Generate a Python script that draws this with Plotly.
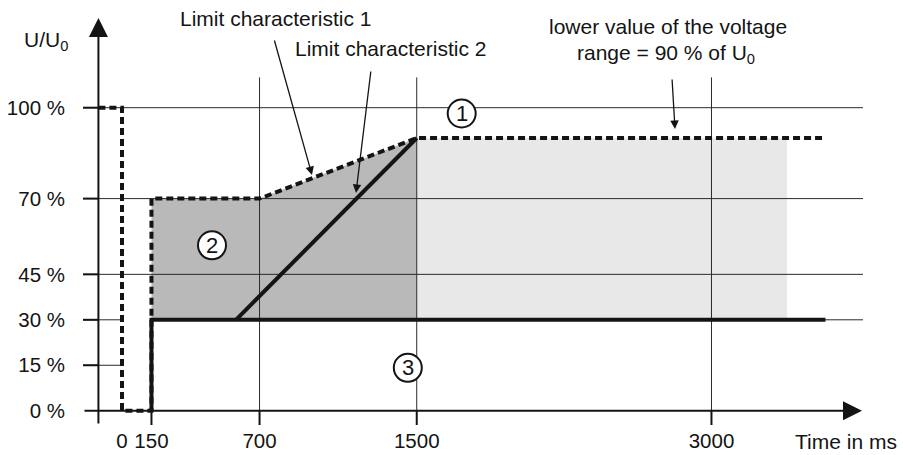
import plotly.graph_objects as go

# ---------------- data ----------------
x_tick_vals = [0, 150, 700, 1500, 3000]
x_tick_text = ["0", "150", "700", "1500", "3000"]
y_tick_vals = [0, 15, 30, 45, 70, 100]
y_tick_text = ["0 %", "15 %", "30 %", "45 %", "70 %", "100 %"]

# Limit characteristic 1 (dashed): time in ms, U/U0 in %
lc1_time = [-120, 0, 0, 150, 150, 700, 1500, 3580]
lc1_volt = [100, 100, 0, 0, 70, 70, 90, 90]

# Limit characteristic 2 (solid)
lc2_time = [150, 150, 3580]
lc2_volt = [0, 30, 30]
lc2_ramp_time = [580, 1500]
lc2_ramp_volt = [30, 90]

# Region 2 (dark grey) and region 1 (light grey)
reg2_time = [150, 150, 700, 1500, 1500]
reg2_volt = [30, 70, 70, 90, 30]
reg1_time = [1500, 1500, 3385, 3385]
reg1_volt = [30, 90, 90, 30]

# grid definition
grid_full_u = [45, 70, 100]
grid_left_u = [15, 30]      # drawn only up to t = 0
grid_right_u = [30]         # drawn from t = 150 on
grid_t = [700, 1500, 3000]
grid_top_u = 110
tick_t = [150, 700, 1500, 3000]
y_axis_t = -120

# ---------------- layout geometry ----------------
W, H = 903, 455
ML, MR, MT, MB = 83, 40, 18, 30
PX_T0 = 122.0
PX_PER_MS = 0.19649
PY_U0 = 410.7
PX_PER_PCT = 3.03
x_range = [(ML - PX_T0) / PX_PER_MS, (W - MR - PX_T0) / PX_PER_MS]
y_range = [(PY_U0 - (H - MB)) / PX_PER_PCT, (PY_U0 - MT) / PX_PER_PCT]


def t_of(px):
    return (px - PX_T0) / PX_PER_MS


def u_of(py):
    return (PY_U0 - py) / PX_PER_PCT


def xp(px):
    return (px - ML) / (W - ML - MR)


def yp(py):
    return (H - MB - py) / (H - MT - MB)


INK = "#141414"
GRID = "#2a2a2a"
FONT = "Liberation Sans, Arial, sans-serif"

fig = go.Figure()

# filled regions
fig.add_trace(go.Scatter(x=reg1_time, y=reg1_volt, fill="toself", fillcolor="#e8e8e8",
                         mode="lines", line=dict(width=0), hoverinfo="skip"))
fig.add_trace(go.Scatter(x=reg2_time, y=reg2_volt, fill="toself", fillcolor="#b9b9b9",
                         mode="lines", line=dict(width=0), hoverinfo="skip"))

# grid lines
gx, gy = [], []
for u in grid_full_u:
    gx += [x_range[0], x_range[1], None]
    gy += [u, u, None]
for u in grid_left_u:
    gx += [x_range[0], 0, None]
    gy += [u, u, None]
for u in grid_right_u:
    gx += [150, x_range[1], None]
    gy += [u, u, None]
for t in grid_t:
    gx += [t, t, None]
    gy += [0, grid_top_u, None]
fig.add_trace(go.Scatter(x=gx, y=gy, mode="lines", line=dict(color=GRID, width=1),
                         hoverinfo="skip"))

# tick marks
tx, ty = [], []
for t in tick_t:
    tx += [t, t, None]
    ty += [0, y_range[0], None]
for u in y_tick_vals[1:]:
    tx += [x_range[0], y_axis_t, None]
    ty += [u, u, None]
fig.add_trace(go.Scatter(x=tx, y=ty, mode="lines", line=dict(color=INK, width=2),
                         hoverinfo="skip"))

# limit characteristics
fig.add_trace(go.Scatter(x=lc1_time, y=lc1_volt, mode="lines",
                         line=dict(color=INK, width=4, dash="7px,4px"), hoverinfo="skip"))
fig.add_trace(go.Scatter(x=lc2_time, y=lc2_volt, mode="lines",
                         line=dict(color=INK, width=4), hoverinfo="skip"))
fig.add_trace(go.Scatter(x=lc2_ramp_time, y=lc2_ramp_volt, mode="lines",
                         line=dict(color=INK, width=4), hoverinfo="skip"))

annotations = []
# axes with arrowheads
annotations.append(dict(x=t_of(862), y=0, ax=x_range[0], ay=0, axref="x", ayref="y",
                        xref="x", yref="y", text="", showarrow=True, arrowhead=2,
                        arrowwidth=2, arrowsize=1.9, arrowcolor=INK, standoff=0))
annotations.append(dict(x=y_axis_t, y=y_range[1], ax=y_axis_t, ay=y_range[0], axref="x",
                        ayref="y", xref="x", yref="y", text="", showarrow=True,
                        arrowhead=2, arrowwidth=2, arrowsize=1.9, arrowcolor=INK,
                        standoff=0))

# callout arrows (head in data coords, tail as pixel offset)
for hx, hy, tlx, tly in [(312, 175, 274, 39), (356, 193, 371, 70), (675, 129, 672, 78)]:
    annotations.append(dict(x=t_of(hx), y=u_of(hy), xref="x", yref="y", ax=tlx - hx,
                            ay=tly - hy, text="", showarrow=True, arrowhead=2,
                            arrowwidth=1.3, arrowsize=1.3, arrowcolor=INK, standoff=0))

# texts
texts = [
    ("Limit characteristic 1", 275, 18, "center"),
    ("Limit characteristic 2", 390, 48, "center"),
    ("lower value of the voltage", 668, 26, "center"),
    ("range = 90 % of U<sub>0</sub>", 666, 54, "center"),
    ("U/U<sub>0</sub>", 46, 41, "center"),
    ("Time in ms", 899, 441, "right"),
]
for txt, cx, cy, anc in texts:
    annotations.append(dict(x=xp(cx), y=yp(cy), xref="paper", yref="paper", text=txt,
                            showarrow=False, xanchor=anc, yanchor="middle",
                            font=dict(family=FONT, size=21, color=INK)))

# circled numbers
shapes = []
for num, cx, cy in [("1", 461.7, 113.5), ("2", 212, 245.3), ("3", 407.8, 367.8)]:
    shapes.append(dict(type="circle", xref="x", yref="y", xsizemode="pixel",
                       ysizemode="pixel", xanchor=t_of(cx), yanchor=u_of(cy),
                       x0=-14, x1=14, y0=-14, y1=14, line=dict(color=INK, width=2),
                       fillcolor="white", layer="above"))
    annotations.append(dict(x=t_of(cx), y=u_of(cy), xref="x", yref="y", text=num,
                            showarrow=False, xanchor="center", yanchor="middle",
                            font=dict(family=FONT, size=22, color=INK)))

fig.update_layout(
    width=W, height=H,
    margin=dict(l=ML, r=MR, t=MT, b=MB, pad=0, autoexpand=False),
    paper_bgcolor="white", plot_bgcolor="white",
    showlegend=False, hovermode=False,
    font=dict(family=FONT, color=INK),
    annotations=annotations, shapes=shapes,
    xaxis=dict(range=x_range, tickvals=x_tick_vals, ticktext=x_tick_text,
               showgrid=False, zeroline=False, showline=False, ticks="",
               tickfont=dict(size=20.5, family=FONT, color=INK), ticklabelstandoff=1,
               automargin=False, fixedrange=True),
    yaxis=dict(range=y_range, tickvals=y_tick_vals, ticktext=y_tick_text,
               showgrid=False, zeroline=False, showline=False, ticks="",
               tickfont=dict(size=20.5, family=FONT, color=INK), ticklabelstandoff=17,
               automargin=False, fixedrange=True),
)

fig.write_html("out.html", config={"displayModeBar": False, "staticPlot": True},
               post_script="document.body.style.margin='0';")
